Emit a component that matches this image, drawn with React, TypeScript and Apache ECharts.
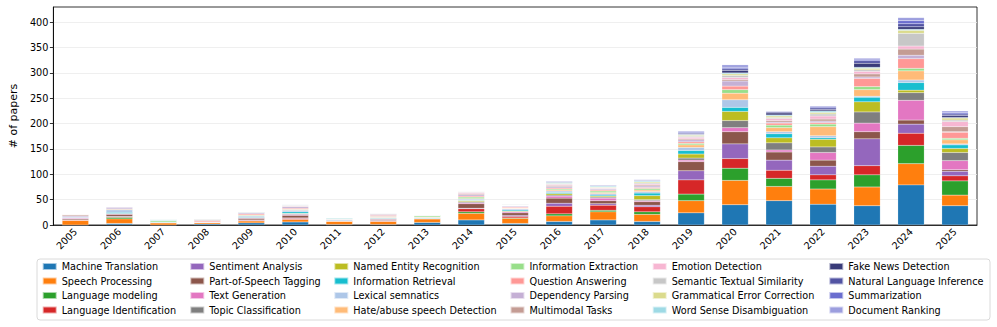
import React, { useEffect, useRef } from "react";
import * as echarts from "echarts";

const years = ["2005","2006","2007","2008","2009","2010","2011","2012","2013","2014","2015","2016","2017","2018","2019","2020","2021","2022","2023","2024","2025"];

const seriesNames = [
  "Machine Translation","Speech Processing","Language modeling","Language Identification",
  "Sentiment Analysis","Part-of-Speech Tagging","Text Generation","Topic Classification",
  "Named Entity Recognition","Information Retrieval","Lexical semnatics","Hate/abuse speech Detection",
  "Information Extraction","Question Answering","Dependency Parsing","Multimodal Tasks",
  "Emotion Detection","Semantic Textual Similarity","Grammatical Error Correction","Word Sense Disambiguation",
  "Fake News Detection","Natural Language Inference","Summarization","Document Ranking",
];

const colors = [
  "#1f77b4","#ff7f0e","#2ca02c","#d62728","#9467bd","#8c564b","#e377c2","#7f7f7f",
  "#bcbd22","#17becf","#aec7e8","#ffbb78","#98df8a","#ff9896","#c5b0d5","#c49c94",
  "#f7b6d2","#c7c7c7","#dbdb8d","#9edae5","#393b79","#5254a3","#6b6ecf","#9c9ede",
];

const machineTranslation =   [0,3,0,2,4,6,1,1,5,10,3,7,10,7,24,40,48,41,38,79,38];
const speechProcessing =     [9,9,4,3,4,5,7,6,7,13,10,11,16,14,24,48,28,30,37,42,21];
const languageModeling =     [0,3,1,0,0,0,0,0,0,3,1,4,3,5,13,24,16,18,24,36,28];
const languageIdent =        [1,1,0,0,1,2,0,1,1,6,3,15,10,10,28,19,16,10,18,24,10];
const sentimentAnalysis =    [0,1,0,0,1,1,0,1,0,1,2,6,3,3,18,29,20,17,53,18,9];
const posTagging =           [2,4,0,0,3,5,0,2,0,9,5,10,6,7,18,24,16,12,14,8,3];
const textGeneration =       [2,1,0,0,1,2,0,1,0,2,2,4,5,2,3,8,4,15,17,39,18];
const topicClassification =  [0,1,0,0,1,1,0,1,0,2,1,2,2,2,4,14,14,11,22,15,16];
const ner =                  [0,0,0,0,0,1,0,0,0,2,1,3,2,8,8,18,10,15,20,5,8];
const infoRetrieval =        [0,2,1,0,1,3,0,1,1,1,2,2,2,5,7,8,8,3,9,15,7];
const lexicalSemantics =     [2,5,0,1,2,3,2,1,1,2,2,3,3,3,6,15,4,4,2,5,2];
const hateSpeech =           [0,0,0,0,1,1,1,1,1,1,1,2,2,3,5,13,8,18,13,18,8];
const infoExtraction =       [0,1,3,0,1,1,0,1,3,3,1,2,3,3,3,7,5,5,6,5,3];
const questionAnswering =    [0,1,0,2,2,2,0,2,0,2,2,2,2,2,3,7,4,3,16,19,12];
const dependencyParsing =    [2,3,0,1,2,3,0,2,0,3,2,3,2,3,4,10,2,3,3,7,1];
const multimodalTasks =      [2,1,0,2,1,1,0,1,0,2,1,2,1,2,2,3,3,4,6,12,10];
const emotionDetection =     [1,1,0,0,0,1,0,0,0,2,1,2,1,2,3,4,4,6,5,6,10];
const sts =                  [0,1,0,0,0,1,1,0,0,1,0,1,1,2,2,4,2,4,3,25,3];
const gec =                  [0,0,0,0,0,0,0,0,0,1,0,1,1,2,2,3,3,3,3,6,4];
const wsd =                  [0,1,2,1,1,1,2,1,0,0,1,2,2,2,1,2,2,3,2,2,1];
const fakeNews =             [0,0,0,0,0,0,0,0,0,0,0,0,0,0,1,5,4,3,8,5,4];
const nli =                  [0,0,0,0,0,0,0,0,0,0,0,1,1,1,2,3,2,3,5,6,3];
const summarization =        [0,0,0,0,0,0,0,0,0,0,0,1,1,1,2,3,1,2,3,6,3];
const documentRanking =      [0,0,0,0,0,0,0,0,0,0,0,1,0,1,2,5,1,2,2,6,3];

const seriesValues = [
  machineTranslation, speechProcessing, languageModeling, languageIdent,
  sentimentAnalysis, posTagging, textGeneration, topicClassification,
  ner, infoRetrieval, lexicalSemantics, hateSpeech,
  infoExtraction, questionAnswering, dependencyParsing, multimodalTasks,
  emotionDetection, sts, gec, wsd,
  fakeNews, nli, summarization, documentRanking,
];

const yTicks = [0, 50, 100, 150, 200, 250, 300, 350, 400];

const FONT = "DejaVu Sans";

export default function App() {
  const ref = useRef<HTMLDivElement>(null);
  useEffect(() => {
    if (!ref.current) return;
    const chart = echarts.init(ref.current, null, { renderer: "svg" });
    const legendLefts = [41.7, 189.3, 333.3, 509.5, 651.7, 828.3];
    const legends = legendLefts.map((left, c) => ({
      orient: "vertical",
      left,
      top: 260.5,
      data: seriesNames.slice(c * 4, c * 4 + 4),
      icon: "rect",
      itemWidth: 14,
      itemHeight: 7,
      itemGap: 2.5,
      padding: 0,
      selectedMode: false,
      textStyle: { fontFamily: FONT, fontSize: 9.7, color: "#000", lineHeight: 12 },
    }));
    chart.setOption({
      animation: false,
      color: colors,
      textStyle: { fontFamily: FONT },
      grid: {
        left: 48, right: 20, top: 7, bottom: 102,
        show: true, borderColor: "#000", borderWidth: 0.8, backgroundColor: "transparent",
      },
      graphic: [
        {
          type: "rect",
          z: -1,
          shape: { x: 37, y: 259, width: 953, height: 61, r: 3 },
          style: { fill: "#fff", stroke: "#d0d0d0", lineWidth: 0.8 },
        },
      ],
      legend: legends,
      xAxis: {
        type: "category",
        data: years,
        boundaryGap: true,
        axisLine: { lineStyle: { color: "#000", width: 0.8 } },
        axisTick: { alignWithLabel: true, length: 3.5, lineStyle: { color: "#000", width: 0.8 } },
        axisLabel: { rotate: 45, fontSize: 9.7, color: "#000", margin: 5, fontFamily: FONT, interval: 0 },
        splitLine: { show: false },
      },
      yAxis: {
        type: "value",
        min: 0,
        max: 430,
        interval: 50,
        name: "# of papers",
        nameLocation: "middle",
        nameGap: 31,
        nameTextStyle: { fontSize: 11, color: "#000", fontFamily: FONT },
        axisLine: { show: true, lineStyle: { color: "#000", width: 0.8 } },
        axisTick: { show: true, length: 3.5, customValues: yTicks, lineStyle: { color: "#000", width: 0.8 } },
        axisLabel: { fontSize: 9.7, color: "#000", margin: 5, fontFamily: FONT, customValues: yTicks },
        splitLine: { show: true, lineStyle: { color: "#ebebeb", width: 0.8 } },
      },
      series: seriesNames.map((name, i) => ({
        name,
        type: "bar",
        stack: "total",
        barWidth: "60%",
        data: seriesValues[i],
        itemStyle: { color: colors[i], borderColor: "rgba(255,255,255,0.6)", borderWidth: 0.3 },
        emphasis: { disabled: true },
      })),
    });
    return () => chart.dispose();
  }, []);
  return <div ref={ref} style={{ width: 997, height: 327, position: "absolute", left: 0, top: 0 }} />;
}
